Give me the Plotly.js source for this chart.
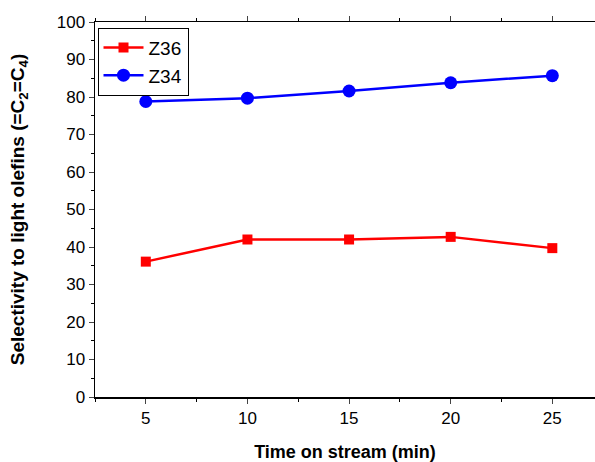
<!DOCTYPE html>
<html><head><meta charset="utf-8">
<script src="https://cdn.plot.ly/plotly-3.0.1.min.js"></script>
<style>html,body{margin:0;padding:0;background:#fff}</style>
</head><body><div id="chart" style="width:595px;height:462px"></div>
<script>
const time = [5, 10, 15, 20, 25];
const z36 = [36.1, 42.0, 42.0, 42.7, 39.7];
const z34 = [78.8, 79.7, 81.6, 83.8, 85.7];

const data = [
  {x: time, y: z36, name: 'Z36', type: 'scatter', mode: 'lines+markers',
   line: {color: '#ff0000', width: 2.5}, marker: {symbol: 'square', size: 10, color: '#ff0000'}},
  {x: time, y: z34, name: 'Z34', type: 'scatter', mode: 'lines+markers',
   line: {color: '#0000ff', width: 2.5}, marker: {symbol: 'circle', size: 13, color: '#0000ff'}}
];
const font = {family: 'Liberation Sans, Arial, sans-serif', color: '#000'};
const layout = {
  width: 595, height: 462,
  margin: {l: 95, r: 0, t: 22, b: 65},
  paper_bgcolor: '#fff', plot_bgcolor: '#fff',
  font: font,
  showlegend: true,
  legend: {x: 0.005, y: 0.985, xanchor: 'left', yanchor: 'top', bordercolor: '#000', borderwidth: 1,
    bgcolor: '#fff', font: {family: font.family, size: 19, color: '#000'}, tracegroupgap: 0, itemwidth: 40},
  xaxis: {range: [2.5, 27.1], tickvals: time, ticks: 'outside', ticklen: 5, tickwidth: 1,
    showline: true, linecolor: '#000', linewidth: 1.5, mirror: 'allticks', showgrid: false, zeroline: false,
    tickfont: {size: 17, family: font.family},
    minor: {dtick: 2.5, tick0: 0, ticks: 'outside', ticklen: 3, tickcolor: '#000'},
    title: {text: '<b>Time on stream (min)</b>', font: {size: 18, family: font.family}, standoff: 18}},
  yaxis: {range: [0, 100], dtick: 10, ticks: 'outside', ticklen: 5, tickwidth: 1,
    showline: true, linecolor: '#000', linewidth: 1.5, showgrid: false, zeroline: false,
    tickfont: {size: 17, family: font.family},
    minor: {dtick: 5, ticks: 'outside', ticklen: 3, tickcolor: '#000'},
    title: {text: '<b>Selectivity to light olefins (=C<sub>2</sub>=C<sub>4</sub>)</b>', font: {size: 19, family: font.family}, standoff: 27}}
};
Plotly.newPlot('chart', data, layout, {displayModeBar: false, staticPlot: true});
</script></body></html>
